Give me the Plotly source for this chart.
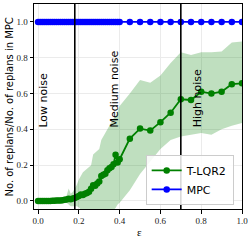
import plotly.graph_objects as go

# epsilon grid (dense up to 0.40, then every 0.05)
eps = [0.00, 0.01, 0.02, 0.03, 0.04, 0.05, 0.06, 0.07, 0.08, 0.09,
       0.10, 0.11, 0.12, 0.13, 0.14, 0.15, 0.16, 0.17, 0.18, 0.19,
       0.20, 0.21, 0.22, 0.23, 0.24, 0.25, 0.26, 0.27, 0.28, 0.29,
       0.30, 0.31, 0.32, 0.33, 0.34, 0.35, 0.36, 0.37, 0.38, 0.39,
       0.40, 0.45, 0.50, 0.55, 0.60, 0.65, 0.70, 0.75, 0.80, 0.85,
       0.90, 0.95, 1.00]

tlqr2_mean = [0.000, 0.000, 0.000, 0.000, 0.000, 0.000, 0.000, 0.001, 0.001, 0.002,
              0.002, 0.003, 0.004, 0.006, 0.008, 0.012, 0.010, 0.014, 0.016, 0.022,
              0.028, 0.036, 0.033, 0.040, 0.045, 0.052, 0.068, 0.088, 0.085, 0.098,
              0.108, 0.140, 0.146, 0.152, 0.172, 0.182, 0.190, 0.205, 0.258, 0.215,
              0.233, 0.348, 0.404, 0.393, 0.440, 0.493, 0.568, 0.564, 0.610, 0.600,
              0.610, 0.652, 0.657]

tlqr2_upper = [0.000, 0.000, 0.000, 0.001, 0.001, 0.002, 0.002, 0.004, 0.004, 0.006,
               0.006, 0.008, 0.010, 0.015, 0.030, 0.070, 0.040, 0.050, 0.070, 0.090,
               0.120, 0.145, 0.160, 0.170, 0.180, 0.190, 0.200, 0.260, 0.270, 0.280,
               0.290, 0.340, 0.360, 0.380, 0.400, 0.420, 0.440, 0.460, 0.470, 0.500,
               0.530, 0.600, 0.676, 0.660, 0.700, 0.770, 0.830, 0.815, 0.830, 0.830,
               0.835, 0.885, 0.890]

tlqr2_lower = [0.000, 0.000, 0.000, 0.000, 0.000, 0.000, 0.000, 0.000, 0.000, 0.000,
               0.000, 0.000, 0.000, -0.005, -0.010, -0.020, -0.030, -0.030, -0.030, -0.030,
               -0.035, -0.050, -0.050, -0.050, -0.050, -0.050, -0.050, -0.050, -0.050, -0.050,
               -0.050, -0.050, -0.050, -0.050, -0.050, -0.050, -0.050, -0.050, -0.040, -0.020,
               -0.010, 0.060, 0.150, 0.220, 0.290, 0.340, 0.360, 0.370, 0.380, 0.370,
               0.400, 0.420, 0.435]

mpc_mean = [1.0] * len(eps)

noise_bounds = [0.18, 0.70]
noise_labels = ["Low noise", "Medium noise", "High noise"]
noise_label_x = [0.028, 0.376, 0.779]
noise_label_y = [0.40, 0.40, 0.40]

x_ticks = [0.0, 0.2, 0.4, 0.6, 0.8, 1.0]
y_ticks = [0.0, 0.2, 0.4, 0.6, 0.8, 1.0]

GREEN = "#008000"
BLUE = "#0000ff"

fig = go.Figure()
fig.add_trace(go.Scatter(x=eps, y=tlqr2_lower, mode="lines", line=dict(width=0),
                         showlegend=False, hoverinfo="skip"))
fig.add_trace(go.Scatter(x=eps, y=tlqr2_upper, mode="lines", line=dict(width=0),
                         fill="tonexty", fillcolor="rgba(0,128,0,0.25)",
                         showlegend=False, hoverinfo="skip"))
fig.add_trace(go.Scatter(x=eps, y=tlqr2_mean, mode="lines+markers", name="T-LQR2",
                         line=dict(color=GREEN, width=1.8),
                         marker=dict(color=GREEN, size=6.5)))
fig.add_trace(go.Scatter(x=eps, y=mpc_mean, mode="lines+markers", name="MPC",
                         line=dict(color=BLUE, width=1.8),
                         marker=dict(color=BLUE, size=6.5)))

for b in noise_bounds:
    fig.add_shape(type="line", xref="x", yref="paper", x0=b, x1=b, y0=0, y1=1,
                  line=dict(color="black", width=1.6), layer="above")

for txt, tx, ty in zip(noise_labels, noise_label_x, noise_label_y):
    fig.add_annotation(x=tx, y=ty, xref="x", yref="y", text=txt, showarrow=False,
                       textangle=-90, xanchor="center", yanchor="bottom",
                       font=dict(family="DejaVu Sans", size=11, color="black"))

fig.add_annotation(x=0, y=0.495, xref="paper", yref="paper", xshift=-24,
                   text="No. of replans/No. of replans in MPC", showarrow=False,
                   textangle=-90, xanchor="center", yanchor="middle",
                   font=dict(family="DejaVu Sans", size=10, color="black"))
fig.add_annotation(x=0.506, y=0, xref="paper", yref="paper", yshift=-23,
                   text="ε", showarrow=False, xanchor="center", yanchor="middle",
                   font=dict(family="Liberation Serif", size=11, color="black"))

axis_common = dict(showline=True, linecolor="black", linewidth=1, mirror=True,
                   ticks="outside", ticklen=3.5, tickwidth=1, tickcolor="black",
                   showgrid=True, gridcolor="#ebebeb", gridwidth=1, zeroline=False,
                   automargin=False,
                   tickfont=dict(family="Liberation Serif", size=9, color="#222"))

fig.update_xaxes(range=[-0.02, 1.0], tickvals=x_ticks,
                 ticktext=["%.1f" % v for v in x_ticks], **axis_common)
fig.update_yaxes(range=[-0.045, 1.1], tickvals=y_ticks,
                 ticktext=["%.1f" % v for v in y_ticks], **axis_common)

fig.update_layout(
    width=250, height=240,
    margin=dict(l=34, r=8, t=4, b=31),
    plot_bgcolor="white", paper_bgcolor="white",
    legend=dict(x=0.96, y=0.02, xanchor="right", yanchor="bottom",
                traceorder="normal",
                bgcolor="rgba(255,255,255,0.85)", bordercolor="#cccccc", borderwidth=1,
                font=dict(family="DejaVu Sans", size=11, color="black"),
                itemwidth=30, tracegroupgap=0),
    showlegend=True,
)

fig.write_html("out.html", config={"displayModeBar": False},
               post_script="document.body.style.margin='0';document.body.style.padding='0';")
